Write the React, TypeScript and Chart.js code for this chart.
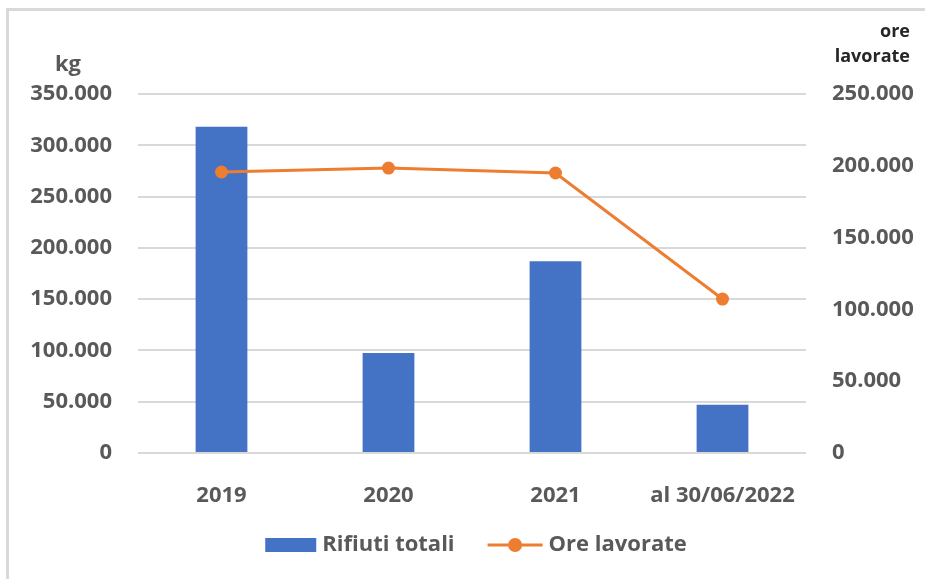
import React, { useEffect, useRef } from "react";
import { Chart, registerables } from "chart.js";

Chart.register(...registerables);

const categories = ["2019", "2020", "2021", "al 30/06/2022"];
const rifiutiTotali = [318000, 97500, 187000, 47000];
const oreLavorate = [195700, 198400, 195000, 107200];
const seriesNames = ["Rifiuti totali", "Ore lavorate"];
const leftAxisTitle = "kg";
const rightAxisTitleLines = ["ore", "lavorate"];
const leftAxisMax = 350000;
const rightAxisMax = 250000;
const tickStep = 50000;

const BLUE = "#4472C4";
const ORANGE = "#ED7D31";
const GRID = "#D9D9D9";
const TEXT = "#595959";
const FONT = '"Open Sans", "Noto Sans", sans-serif';

const fmt = (v: number) => String(Math.round(v)).replace(/\B(?=(\d{3})+(?!\d))/g, ".");

const overlayPlugin = {
  id: "overlay",
  afterDraw(chart: any) {
    const ctx = chart.ctx as CanvasRenderingContext2D;
    const { top } = chart.chartArea;
    ctx.save();
    // left axis title
    ctx.font = `bold 22px ${FONT}`;
    ctx.fillStyle = TEXT;
    ctx.textAlign = "center";
    ctx.textBaseline = "middle";
    ctx.fillText(leftAxisTitle, 68, top - 29);
    // right axis title
    ctx.font = `bold 18px ${FONT}`;
    ctx.fillStyle = "#262626";
    ctx.textAlign = "right";
    ctx.fillText(rightAxisTitleLines[0], 910, 32);
    ctx.fillText(rightAxisTitleLines[1], 910, 57);

    // legend
    ctx.font = `bold 22px ${FONT}`;
    ctx.fillStyle = TEXT;
    ctx.textAlign = "left";
    const ly = 545;
    const w1 = ctx.measureText(seriesNames[0]).width;
    const w2 = ctx.measureText(seriesNames[1]).width;
    const boxW = 51, gap = 6, itemGap = 33, lineW = 55;
    const total = boxW + gap + w1 + itemGap + lineW + gap + w2;
    let x = 476 - total / 2;
    ctx.fillStyle = BLUE;
    ctx.fillRect(x, ly - 7, boxW, 14);
    x += boxW + gap;
    ctx.fillStyle = TEXT;
    ctx.fillText(seriesNames[0], x, ly);
    x += w1 + itemGap;
    ctx.strokeStyle = ORANGE;
    ctx.lineWidth = 3;
    ctx.beginPath();
    ctx.moveTo(x, ly);
    ctx.lineTo(x + lineW, ly);
    ctx.stroke();
    ctx.fillStyle = ORANGE;
    ctx.beginPath();
    ctx.arc(x + lineW / 2, ly, 7, 0, Math.PI * 2);
    ctx.fill();
    x += lineW + gap;
    ctx.fillStyle = TEXT;
    ctx.fillText(seriesNames[1], x, ly);
    ctx.restore();
  },
};

export default function App() {
  const canvasRef = useRef<HTMLCanvasElement | null>(null);

  useEffect(() => {
    const canvas = canvasRef.current;
    if (!canvas) return;
    const tickFont = { family: FONT, size: 22, weight: "bold" as any };
    const chart = new Chart(canvas, {
      type: "bar",
      data: {
        labels: categories,
        datasets: [
          {
            type: "line" as const,
            label: seriesNames[1],
            data: oreLavorate,
            yAxisID: "y1",
            borderColor: ORANGE,
            backgroundColor: ORANGE,
            borderWidth: 3,
            pointRadius: 6.5,
            pointBackgroundColor: ORANGE,
            pointBorderColor: ORANGE,
            pointBorderWidth: 0,
            tension: 0,
            order: 0,
          },
          {
            type: "bar" as const,
            label: seriesNames[0],
            data: rifiutiTotali,
            yAxisID: "y",
            backgroundColor: BLUE,
            borderWidth: 0,
            categoryPercentage: 1,
            barPercentage: 0.31,
            order: 1,
          },
        ],
      },
      options: {
        responsive: false,
        animation: false,
        layout: { padding: { top: 94, bottom: 0, left: 0, right: 0 } },
        plugins: {
          legend: { display: false },
          tooltip: { enabled: false },
          title: { display: false },
        },
        scales: {
          x: {
            grid: { display: false },
            border: { display: false },
            ticks: { font: tickFont, color: TEXT, padding: 22, maxRotation: 0 },
            afterFit: (s: any) => {
              s.height = 126;
            },
          },
          y: {
            position: "left",
            min: 0,
            max: leftAxisMax,
            grid: { color: GRID, lineWidth: 2, drawTicks: false },
            border: { display: false },
            ticks: {
              stepSize: tickStep,
              font: tickFont,
              color: TEXT,
              padding: 26,
              callback: (v: any) => fmt(Number(v)),
            },
            afterFit: (s: any) => {
              s.width = 138;
            },
          },
          y1: {
            position: "right",
            min: 0,
            max: rightAxisMax,
            grid: { display: false, drawTicks: false },
            border: { display: false },
            ticks: {
              stepSize: tickStep,
              font: tickFont,
              color: TEXT,
              padding: 26,
              callback: (v: any) => fmt(Number(v)),
            },
            afterFit: (s: any) => {
              s.width = 119;
            },
          },
        },
      },
      plugins: [overlayPlugin],
    } as any);
    return () => chart.destroy();
  }, []);

  return (
    <div style={{ position: "absolute", left: 0, top: 0, width: 925, height: 579, background: "#fff", overflow: "hidden" }}>
      <div
        style={{
          position: "absolute",
          left: 6,
          top: 8,
          width: 925,
          height: 579,
          borderLeft: `3px solid ${GRID}`,
          borderTop: `3px solid ${GRID}`,
        }}
      />
      <canvas ref={canvasRef} width={925} height={579} style={{ position: "absolute", left: 0, top: 0 }} />
    </div>
  );
}
